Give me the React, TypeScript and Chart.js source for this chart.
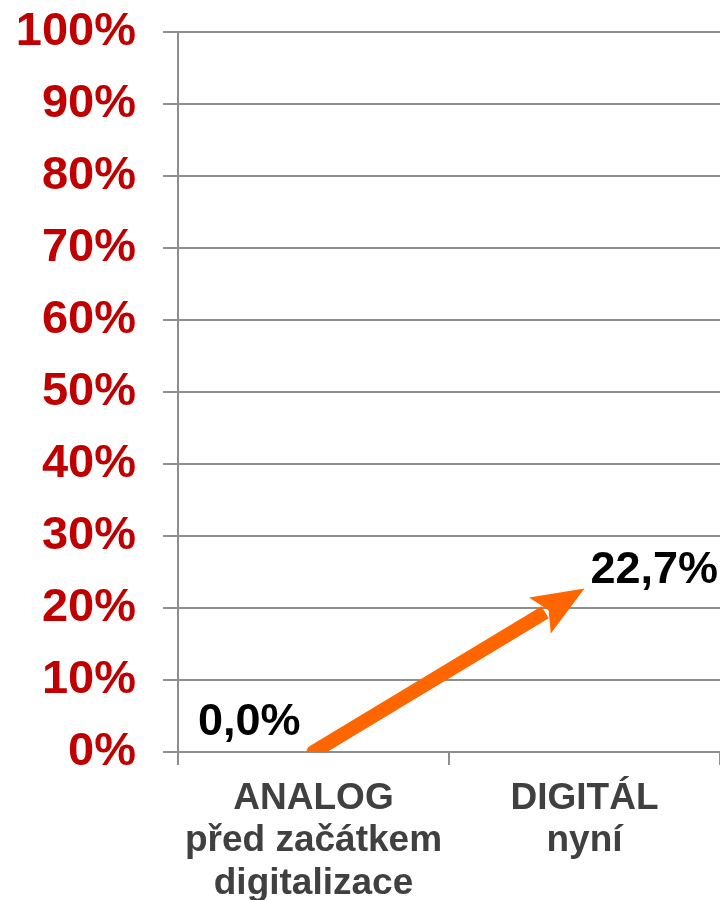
import React, { useEffect, useRef } from "react";
import { Chart, registerables } from "chart.js";

Chart.register(...registerables);

const categories: string[][] = [
  ["ANALOG", "před začátkem", "digitalizace"],
  ["DIGITÁL", "nyní"],
];
const values: number[] = [0, 22.7];
const valueLabels: string[] = ["0,0%", "22,7%"];
const yMin = 0;
const yMax = 100;
const yStep = 10;

const FONT = "'Liberation Sans', Arial, Helvetica, sans-serif";
const ORANGE = "#FF6600";
const GRID = "#8e8e8e";
const HEAD_LEN = 52;
const HEAD_HALF = 21;

function arrowGeom(chart: any) {
  const meta = chart.getDatasetMeta(0);
  const pts = meta.data;
  const p0 = pts[0];
  const p1 = pts[pts.length - 1];
  const dx = p1.x - p0.x;
  const dy = p1.y - p0.y;
  const len = Math.hypot(dx, dy) || 1;
  const ux = dx / len;
  const uy = dy / len;
  const nx = -uy;
  const ny = ux;
  return { p0, p1, ux, uy, nx, ny };
}

const arrowPlugin = {
  id: "arrowPlugin",
  beforeDatasetDraw(chart: any) {
    const ctx = chart.ctx;
    const { p1, ux, uy, nx, ny } = arrowGeom(chart);
    const bx = p1.x - ux * (HEAD_LEN - 6);
    const by = p1.y - uy * (HEAD_LEN - 6);
    const L = 3000;
    ctx.save();
    ctx.beginPath();
    ctx.moveTo(bx + nx * L, by + ny * L);
    ctx.lineTo(bx + nx * L - ux * L, by + ny * L - uy * L);
    ctx.lineTo(bx - nx * L - ux * L, by - ny * L - uy * L);
    ctx.lineTo(bx - nx * L, by - ny * L);
    ctx.closePath();
    ctx.clip();
  },
  afterDatasetDraw(chart: any) {
    const ctx = chart.ctx;
    ctx.restore();
    const { p1, ux, uy, nx, ny } = arrowGeom(chart);
    const bx = p1.x - ux * HEAD_LEN;
    const by = p1.y - uy * HEAD_LEN;
    ctx.save();
    ctx.fillStyle = ORANGE;
    ctx.beginPath();
    ctx.moveTo(p1.x, p1.y);
    ctx.lineTo(bx + nx * HEAD_HALF, by + ny * HEAD_HALF);
    ctx.lineTo(bx + ux * 10, by + uy * 10);
    ctx.lineTo(bx - nx * HEAD_HALF, by - ny * HEAD_HALF);
    ctx.closePath();
    ctx.fill();
    ctx.restore();
  },
  afterDraw(chart: any) {
    const ctx = chart.ctx;
    const pts = chart.getDatasetMeta(0).data;
    ctx.save();
    ctx.fillStyle = "#000000";
    ctx.font = `bold 45px ${FONT}`;
    ctx.textBaseline = "alphabetic";
    ctx.textAlign = "right";
    ctx.fillText(valueLabels[0], pts[0].x - 13, pts[0].y - 17);
    ctx.textAlign = "right";
    ctx.fillText(valueLabels[1], chart.chartArea.right - 2, pts[1].y - 6);
    ctx.restore();
  },
};

export default function App() {
  const ref = useRef<HTMLCanvasElement | null>(null);
  useEffect(() => {
    document.body.style.margin = "0";
    const canvas = ref.current;
    if (!canvas) return;
    const chart = new Chart(canvas, {
      type: "line",
      data: {
        labels: categories as any,
        datasets: [
          {
            data: values,
            borderColor: ORANGE,
            borderWidth: 14,
            borderCapStyle: "round",
            pointRadius: 0,
            pointHoverRadius: 0,
            fill: false,
            tension: 0,
            clip: 0 as any,
          },
        ],
      },
      options: {
        responsive: false,
        animation: false,
        events: [],
        layout: { padding: { top: 32, right: 0, bottom: 0, left: 0 } },
        plugins: {
          legend: { display: false },
          tooltip: { enabled: false },
          title: { display: false },
        },
        scales: {
          x: {
            type: "category",
            offset: true,
            afterFit: (s: any) => {
              s.height = 148;
              s.paddingLeft = 0;
              s.paddingRight = 0;
            },
            grid: {
              offset: true,
              drawOnChartArea: false,
              drawTicks: true,
              tickLength: 13,
              color: GRID,
              lineWidth: 2,
            },
            border: { display: true, color: GRID, width: 2 },
            ticks: {
              color: "#404040",
              font: { family: FONT, size: 37, weight: "bold", lineHeight: 1.14 },
              padding: 13,
              maxRotation: 0,
              autoSkip: false,
            },
          },
          y: {
            min: yMin,
            max: yMax,
            afterFit: (s: any) => {
              s.width = 178;
              s.paddingTop = 0;
              s.paddingBottom = 0;
            },
            grid: {
              color: GRID,
              lineWidth: 2,
              tickLength: 15,
              drawTicks: true,
            },
            border: { display: true, color: GRID, width: 2 },
            ticks: {
              stepSize: yStep,
              color: "#C00000",
              font: { family: FONT, size: 47, weight: "bold" },
              padding: 27,
              callback: (v: any) => `${v}%`,
            },
          },
        },
      },
      plugins: [arrowPlugin],
    });
    return () => chart.destroy();
  }, []);
  return (
    <div style={{ width: 720, height: 900 }}>
      <canvas ref={ref} width={720} height={900} style={{ display: "block" }} />
    </div>
  );
}
